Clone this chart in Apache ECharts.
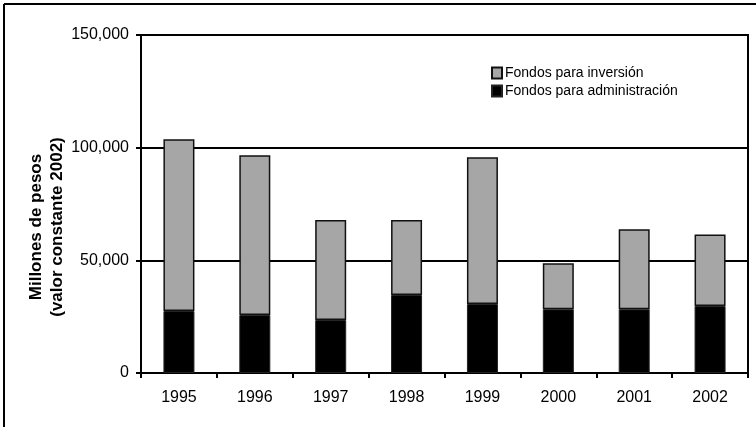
<!DOCTYPE html>
<html>
<head>
<meta charset="utf-8">
<script src="https://cdn.jsdelivr.net/npm/echarts@6/dist/echarts.min.js"></script>
<style>
  html, body { margin: 0; padding: 0; background: #fff; }
  #chart { width: 756px; height: 427px; }
</style>
</head>
<body>
<div id="chart"></div>
<script>
// Años del periodo
const years = ['1995', '1996', '1997', '1998', '1999', '2000', '2001', '2002'];
// Millones de pesos, valor constante 2002
const fondosAdministracion = [27500, 25700, 23500, 34600, 30600, 28300, 28300, 29700];
const fondosInversion = [76200, 70900, 44400, 33300, 65100, 20400, 35500, 31800];
// Marcas del eje vertical
const yTicks = [0, 50000, 100000, 150000];

const FONT = '"Liberation Sans", Arial, sans-serif';
const fmt = v => v.toLocaleString('en-US');

const chart = echarts.init(document.getElementById('chart'), null, { renderer: 'canvas' });

chart.setOption({
  animation: false,
  backgroundColor: '#fff',
  textStyle: { fontFamily: FONT, color: '#000' },
  grid: {
    left: 141, top: 35, right: 8, bottom: 54,
    show: true, borderColor: '#000', borderWidth: 2, backgroundColor: 'transparent'
  },
  legend: {
    orient: 'vertical',
    left: 486, top: 61,
    itemWidth: 10, itemHeight: 11, itemGap: 4,
    icon: 'rect',
    data: ['Fondos para inversión', 'Fondos para administración'],
    textStyle: { fontFamily: FONT, fontSize: 14, color: '#000', padding: [0, 0, 0, -2] }
  },
  xAxis: {
    type: 'category',
    data: years,
    boundaryGap: true,
    axisLine: { lineStyle: { color: '#000', width: 2 } },
    axisTick: { show: true, length: 5, lineStyle: { color: '#000', width: 2 } },
    axisLabel: { fontFamily: FONT, fontSize: 16, color: '#000', margin: 17 }
  },
  yAxis: {
    type: 'value',
    min: yTicks[0], max: yTicks[yTicks.length - 1], interval: yTicks[1] - yTicks[0],
    axisLine: { show: true, lineStyle: { color: '#000', width: 2 } },
    axisTick: { show: true, length: 5, lineStyle: { color: '#000', width: 2 } },
    splitLine: { show: true, lineStyle: { color: '#000', width: 2 } },
    axisLabel: { fontFamily: FONT, fontSize: 16, color: '#000', margin: 12, formatter: fmt }
  },
  series: [
    {
      name: 'Fondos para administración',
      type: 'bar', stack: 'total', barWidth: 31,
      itemStyle: { color: '#000', borderColor: '#222', borderWidth: 1 },
      data: fondosAdministracion
    },
    {
      name: 'Fondos para inversión',
      type: 'bar', stack: 'total', barWidth: 31,
      itemStyle: { color: '#a6a6a6', borderColor: '#111', borderWidth: 1.5 },
      data: fondosInversion
    }
  ],
  graphic: [
    // marco exterior (lados superior e izquierdo)
    { type: 'line', shape: { x1: 4, y1: 4, x2: 756, y2: 4 }, style: { stroke: '#000', lineWidth: 2 } },
    { type: 'line', shape: { x1: 4, y1: 4, x2: 4, y2: 427 }, style: { stroke: '#000', lineWidth: 2 } },
    {
      type: 'text', x: 47, y: 227, rotation: Math.PI / 2,
      style: {
        text: 'Millones de pesos\n(valor constante 2002)',
        font: 'bold 17px ' + FONT, fill: '#000',
        align: 'center', verticalAlign: 'middle', lineHeight: 21
      }
    }
  ]
});
</script>
</body>
</html>
